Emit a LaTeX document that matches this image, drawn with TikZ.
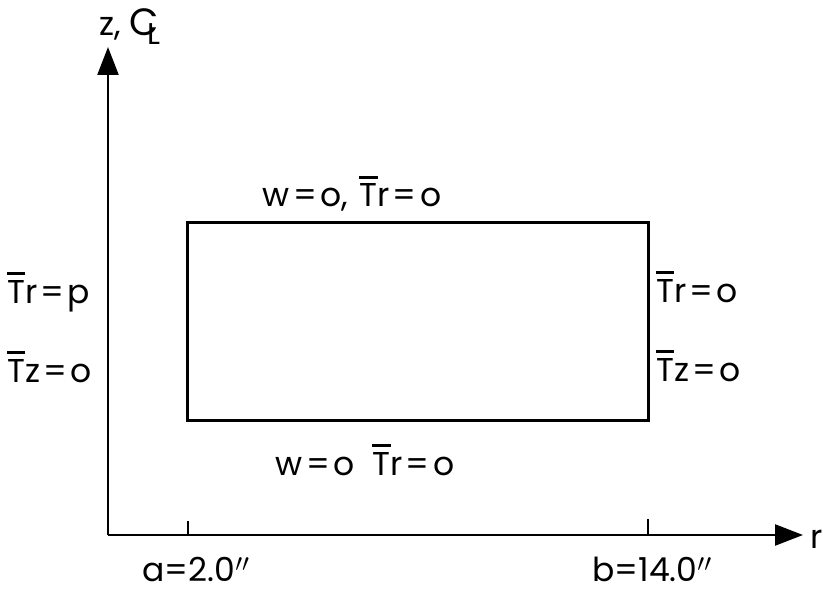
\documentclass[tikz,border=0pt]{standalone}
\usepackage{fontspec}
\setmainfont{Poppins}
\usetikzlibrary{arrows.meta}
\newcommand{\Tb}{\ooalign{T\cr\hidewidth\raisebox{0.86em}{\rule{0.56em}{0.07em}}\hidewidth\cr}}
\newcommand{\eqs}{\hspace{0.1em}=\hspace{0.1em}}
\newcommand{\CLsym}{{\fontsize{38}{40}\selectfont C}\kern-0.33em\raisebox{-9pt}{\fontsize{30}{32}\selectfont L}}
\begin{document}
\begin{tikzpicture}[x=1pt,y=-1pt,
  axis/.style={line width=2.4pt},
  tip/.style={-{Triangle[length=28pt,width=21pt]}},
  box/.style={line width=3pt},
  lbl/.style={font=\fontsize{33}{35}\selectfont, inner sep=0pt}]
\useasboundingbox (0,0) rectangle (823,591);
\coordinate (O) at (108,535);
\coordinate (Ztip) at (108,47);
\coordinate (Rtip) at (803,535);
\coordinate (A) at (188,535);
\coordinate (Atop) at (188,521);
\coordinate (B) at (648,535);
\coordinate (Btop) at (648,519);
\draw[axis,tip] (O) -- (Ztip);
\draw[axis,tip] (O) -- (Rtip);
\draw[axis] (A) -- (Atop);
\draw[axis] (B) -- (Btop);
\draw[box] (187,223) rectangle (648,420);
% labels
\node[lbl,anchor=base west] (zl) at (99,36) {z,\hspace{0.25em}\CLsym};
\node[lbl,anchor=base west] (rl) at (810,548) {r};
\node[lbl,anchor=base] (top) at (352,207) {w\eqs o,\hspace{0.35em}\Tb r\eqs o};
\node[lbl,anchor=base] (bot) at (365,475) {w\eqs o\hspace{0.55em}\Tb r\eqs o};
\node[lbl,anchor=base west] (l1) at (7,303) {\Tb r\eqs p};
\node[lbl,anchor=base west] (l2) at (7,382) {\Tb z\eqs o};
\node[lbl,anchor=base west] (r1) at (656,302) {\Tb r\eqs o};
\node[lbl,anchor=base west] (r2) at (656,381) {\Tb z\eqs o};
\node[lbl,anchor=base] (al) at (196,581) {a=2.0$''$};
\node[lbl,anchor=base] (bl) at (652,581) {b=14.0$''$};
\end{tikzpicture}
\end{document}
